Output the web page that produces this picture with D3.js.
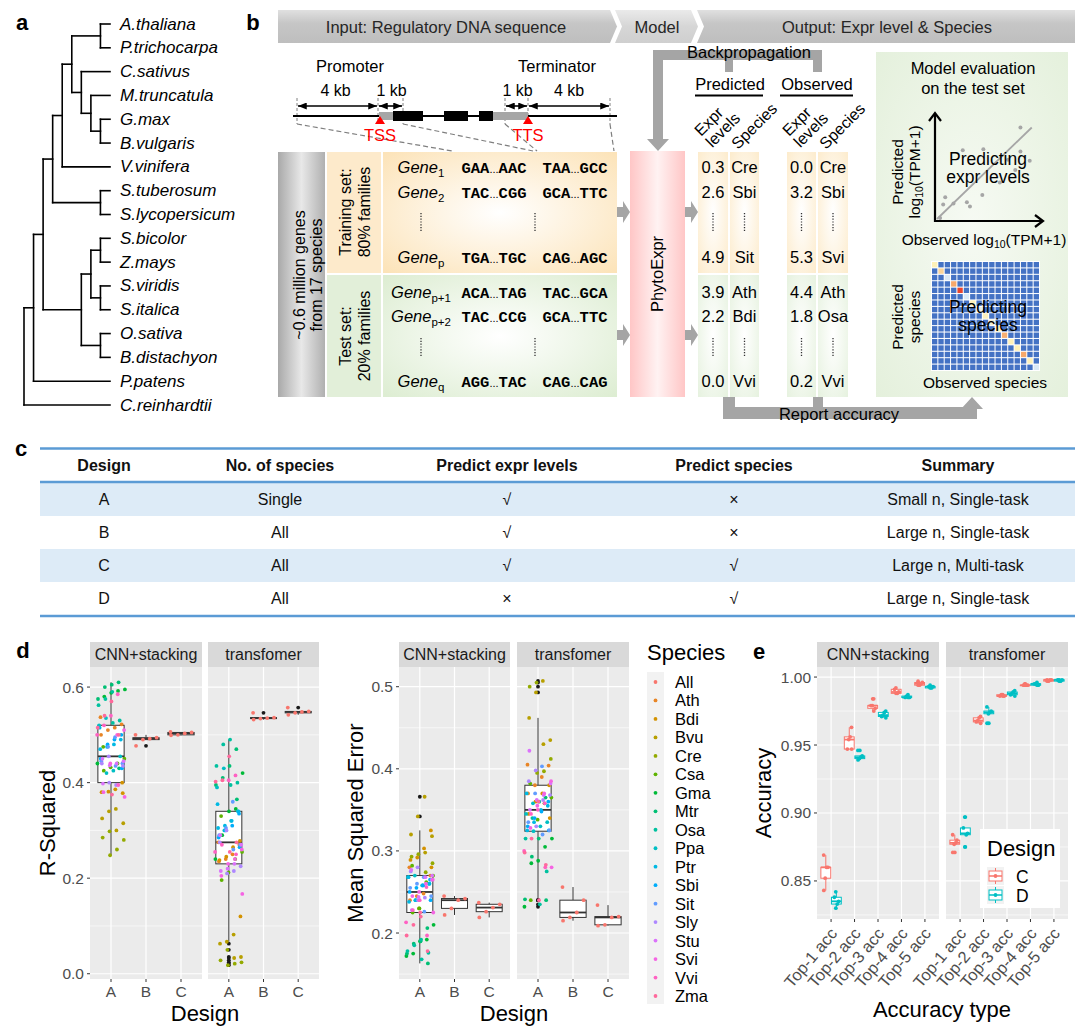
<!DOCTYPE html>
<html><head><meta charset="utf-8">
<script src="https://cdnjs.cloudflare.com/ajax/libs/d3/7.8.5/d3.min.js"></script>
<style>html,body{margin:0;padding:0;background:#fff;} svg{display:block;}</style>
</head><body>
<svg id="fig" width="1080" height="1031"></svg>
<script>
// ======================= DATA =======================
const speciesTree = [[[[[[["A.thaliana","P.trichocarpa"],["C.sativus",["M.truncatula",["G.max","B.vulgaris"]]]],"V.vinifera"],["S.tuberosum","S.lycopersicum"]],[[["S.bicolor","Z.mays"],["S.viridis","S.italica"]],["O.sativa","B.distachyon"]]],"P.patens"],"C.reinhardtii"];

const bannerLabels = ["Input: Regulatory DNA sequence","Model","Output: Expr level & Species"];
const geneLabels = {promoter:"Promoter", terminator:"Terminator", dims:["4 kb","1 kb","1 kb","4 kb"], tss:"TSS", tts:"TTS"};
const trainGenes = [{sub:"1",a:["GAA","AAC"],b:["TAA","GCC"]},{sub:"2",a:["TAC","CGG"],b:["GCA","TTC"]},null,{sub:"p",a:["TGA","TGC"],b:["CAG","AGC"]}];
const testGenes  = [{sub:"p+1",a:["ACA","TAG"],b:["TAC","GCA"]},{sub:"p+2",a:["TAC","CCG"],b:["GCA","TTC"]},null,{sub:"q",a:["AGG","TAC"],b:["CAG","CAG"]}];
const predExpr = ["0.3","2.6",null,"4.9","3.9","2.2",null,"0.0"];
const predSpecies = ["Cre","Sbi",null,"Sit","Ath","Bdi",null,"Vvi"];
const obsExpr = ["0.0","3.2",null,"5.3","4.4","1.8",null,"0.2"];
const obsSpecies = ["Cre","Sbi",null,"Svi","Ath","Osa",null,"Vvi"];
const evalObs  = [8.1,2.5,4.5,8.1,9.0,0.8,0.6,1.6,2.9,3.2,4.4,6.1,6.9,0.3,7.6];
const evalPred = [8.8,6.6,6.7,6.5,5.6,2.1,1.4,1.5,1.6,1.2,2.3,3.5,5.7,0.1,4.7];
const confDiag = [0.62,0.7,0.45,0.82,0.97,0.45,0.62,0.5,0.6,0.55,0.62,0.8,0.62,0.62,0.82,0.62,0.45];

const tableHeader = ["Design","No. of species","Predict expr levels","Predict species","Summary"];
const tableRows = [["A","Single","√","×","Small n, Single-task"],["B","All","√","×","Large n, Single-task"],["C","All","√","√","Large n, Multi-task"],["D","All","×","√","Large n, Single-task"]];

const speciesLevels = ["All","Ath","Bdi","Bvu","Cre","Csa","Gma","Mtr","Osa","Ppa","Ptr","Sbi","Sit","Sly","Stu","Svi","Vvi","Zma"];
const designLevels = ["A","B","C"];
const modelLevels = ["CNN+stacking","transfomer"];

// R-squared, design A: one row per species Ath..Zma
const r2CnnA = [
 [0.537,0.522,0.515,0.510,0.500],[0.400,0.386,0.381,0.380,0.378],[0.345,0.340,0.325,0.315,0.300],[0.298,0.285,0.280,0.260,0.248],
 [0.475,0.450,0.440,0.432,0.425],[0.595,0.592,0.588,0.580,0.440],[0.610,0.605,0.600,0.575,0.430],[0.590,0.575,0.562,0.530,0.525],
 [0.535,0.520,0.455,0.425,0.420],[0.515,0.490,0.480,0.475,0.470],[0.500,0.490,0.480,0.450,0.430],[0.495,0.475,0.445,0.440,0.435],
 [0.455,0.440,0.435,0.395,0.400],[0.450,0.445,0.440,0.436,0.398],[0.510,0.500,0.440,0.380,0.370],[0.585,0.540,0.520,0.500,0.395],
 [0.570,0.540,0.515,0.500,0.375]];
const r2CnnB = [0.500,0.494,0.492,0.490,0.477];
const r2CnnC = [0.506,0.505,0.503,0.500,0.499];
const r2TrfA = [
 [0.275,0.270,0.250,0.240,0.235],[0.278,0.265,0.245,0.238,0.120],[0.082,0.067,0.063,0.035,0.033],[0.050,0.028,0.024,0.021,0.018],
 [0.330,0.255,0.240,0.212,0.196],[0.420,0.345,0.340,0.290,0.240],[0.470,0.435,0.410,0.395,0.365],[0.490,0.480,0.435,0.400,0.395],
 [0.430,0.390,0.340,0.320,0.300],[0.355,0.340,0.320,0.310,0.305],[0.335,0.310,0.300,0.285,0.265],[0.360,0.305,0.290,0.270,0.260],
 [0.300,0.275,0.225,0.215,0.210],[0.290,0.270,0.230,0.220,0.215],[0.260,0.240,0.230,0.205,0.167],[0.415,0.405,0.270,0.255,0.250],
 [0.455,0.405,0.402,0.275,0.255]];
const r2TrfB = [0.546,0.536,0.535,0.534,0.532];
const r2TrfC = [0.557,0.549,0.548,0.546,0.542];

// Mean squared error
const mseCnnA = [
 [0.280,0.270,0.248,0.245,0.240],[0.325,0.303,0.292,0.289,0.280],[0.366,0.342,0.320,0.318,0.298],[0.296,0.293,0.285,0.274,0.230],
 [0.282,0.270,0.262,0.230,0.225],[0.210,0.192,0.190,0.175,0.172],[0.206,0.190,0.187,0.175,0.163],[0.192,0.185,0.178,0.176,0.168],
 [0.270,0.268,0.260,0.258,0.240],[0.268,0.260,0.258,0.240,0.238],[0.265,0.258,0.255,0.250,0.240],[0.268,0.260,0.255,0.245,0.226],
 [0.280,0.275,0.265,0.243,0.240],[0.277,0.270,0.268,0.244,0.228],[0.265,0.260,0.250,0.245,0.225],[0.256,0.240,0.228,0.213,0.197],
 [0.225,0.210,0.197,0.178,0.220]];
const mseCnnB = [0.245,0.242,0.240,0.230,0.222];
const mseCnnC = [0.237,0.235,0.231,0.226,0.219];
const mseTrfA = [
 [0.405,0.404,0.390,0.380,0.370],[0.380,0.370,0.360,0.345,0.340],[0.507,0.493,0.462,0.435,0.430],[0.505,0.500,0.412,0.397,0.395],
 [0.382,0.365,0.358,0.338,0.240],[0.315,0.305,0.288,0.285,0.232],[0.365,0.315,0.293,0.241,0.240],[0.360,0.340,0.315,0.275,0.235],
 [0.358,0.345,0.335,0.330,0.324],[0.370,0.355,0.350,0.335,0.325],[0.360,0.348,0.340,0.330,0.325],[0.403,0.370,0.335,0.325,0.320],
 [0.398,0.385,0.368,0.362,0.330],[0.422,0.382,0.368,0.362,0.350],[0.385,0.370,0.355,0.328,0.280],[0.358,0.350,0.345,0.300,0.280],
 [0.360,0.315,0.298,0.283,0.240]];
const mseTrfB = [0.256,0.240,0.225,0.219,0.215];
const mseTrfC = [0.234,0.220,0.219,0.210,0.209];

// Accuracy (panel e): one row per accuracy type
const accTypes = ["Top-1 acc","Top-2 acc","Top-3 acc","Top-4 acc","Top-5 acc"];
const accDesigns = ["C","D"];
const accCnnC = [[0.869,0.860,0.860,0.852,0.843],[0.963,0.956,0.954,0.947,0.947],[0.984,0.979,0.979,0.977,0.975],[0.992,0.991,0.989,0.988,0.988],[0.997,0.996,0.995,0.994,0.994]];
const accCnnD = [[0.842,0.838,0.835,0.833,0.830],[0.946,0.942,0.941,0.940,0.939],[0.975,0.974,0.972,0.971,0.970],[0.987,0.986,0.985,0.985,0.985],[0.994,0.993,0.993,0.992,0.992]];
const accTrfC = [[0.884,0.880,0.878,0.877,0.871],[0.971,0.970,0.968,0.967,0.966],[0.987,0.987,0.986,0.986,0.986],[0.995,0.994,0.994,0.994,0.994],[0.998,0.998,0.998,0.997,0.997]];
const accTrfD = [[0.897,0.889,0.885,0.884,0.875],[0.978,0.975,0.974,0.973,0.966],[0.990,0.989,0.988,0.987,0.986],[0.996,0.995,0.995,0.994,0.994],[0.998,0.998,0.998,0.997,0.997]];

const r2Ticks = [0.0,0.2,0.4,0.6], mseTicks = [0.2,0.3,0.4,0.5], accTicks = [0.85,0.90,0.95,1.00];

// ======================= HELPERS =======================
const FONT = '"Liberation Sans", Arial, Helvetica, sans-serif';
const MONO = '"Liberation Mono", "Courier New", monospace';
const svg = d3.select("#fig").attr("font-family", FONT);
const defs = svg.append("defs");

function hclLuv(h, c, l) { // R's hcl() (polar CIELUV) -> hex
  const Xn=95.047, Yn=100, Zn=108.883;
  const un = 4*Xn/(Xn+15*Yn+3*Zn), vn = 9*Yn/(Xn+15*Yn+3*Zn);
  const hr = h*Math.PI/180, U = c*Math.cos(hr), V = c*Math.sin(hr);
  const Y = l > 8 ? Yn*Math.pow((l+16)/116,3) : Yn*l/903.3;
  const up = U/(13*l)+un, vp = V/(13*l)+vn;
  const X = Y*9*up/(4*vp), Z = Y*(12-3*up-20*vp)/(4*vp);
  const x=X/100, y=Y/100, z=Z/100;
  let r = 3.2404542*x-1.5371385*y-0.4985314*z, g=-0.9692660*x+1.8760108*y+0.0415560*z, b=0.0556434*x-0.2040259*y+1.0572252*z;
  const gam = v => { v = v<=0.0031308 ? 12.92*v : 1.055*Math.pow(v,1/2.4)-0.055; return Math.round(255*Math.max(0,Math.min(1,v))); };
  return d3.rgb(gam(r),gam(g),gam(b)).formatHex();
}
const speciesColor = d3.scaleOrdinal(speciesLevels, speciesLevels.map((s,i)=>hclLuv(15+i*360/18,100,65)));
const designColor = d3.scaleOrdinal(accDesigns, [hclLuv(15,100,65), hclLuv(195,100,65)]);
const jit = k => (((k+1)*0.7548776662 + 0.37) % 1)*2 - 1;

function txt(g, x, y, s, o={}) {
  const t = g.append("text").attr("x",x).attr("y",y).text(s)
    .attr("font-size", o.size||16).attr("fill", o.fill||"#000").attr("text-anchor", o.anchor||"middle");
  if (o.weight) t.attr("font-weight",o.weight);
  if (o.style) t.attr("font-style",o.style);
  if (o.family) t.attr("font-family",o.family);
  if (o.rotate!==undefined) t.attr("transform",`rotate(${o.rotate},${x},${y})`);
  return t;
}
function linGrad(id, x2, y2, stops){ const g=defs.append("linearGradient").attr("id",id).attr("x1",0).attr("y1",0).attr("x2",x2).attr("y2",y2); stops.forEach(([o,c])=>g.append("stop").attr("offset",o).attr("stop-color",c)); }
function radGrad(id, stops, r="70%"){ const g=defs.append("radialGradient").attr("id",id).attr("cx","50%").attr("cy","50%").attr("r",r); stops.forEach(([o,c])=>g.append("stop").attr("offset",o).attr("stop-color",c)); }
linGrad("gBanner",0,1,[["0%","#E0E0E0"],["40%","#C6C6C6"],["100%","#BEBEBE"]]);
linGrad("gModel",0,1,[["0%","#EAEAEA"],["50%","#D6D6D6"],["100%","#CFCFCF"]]);
linGrad("gGray",1,0,[["0%","#A9A9A9"],["50%","#E8E8E8"],["100%","#B0B0B0"]]);
linGrad("gPink",1,0,[["0%","#FFC6C6"],["50%","#FFF2F2"],["100%","#FFC6C6"]]);
radGrad("gOrange",[["0%","#FFFFFF"],["100%","#FCE3B8"]]);
radGrad("gGreen",[["0%","#FFFFFF"],["100%","#DDEDD2"]]);
radGrad("gOrangeCol",[["0%","#FFFFFF"],["100%","#FCE6BE"]],"90%");
radGrad("gGreenCol",[["0%","#FFFFFF"],["100%","#DFEED6"]],"90%");
radGrad("gEval",[["0%","#F6FAF3"],["100%","#E2EFD9"]],"80%");
defs.append("marker").attr("id","arrowHead").attr("viewBox","0 0 10 8").attr("refX",10).attr("refY",4)
  .attr("markerWidth",9).attr("markerHeight",7).attr("markerUnits","userSpaceOnUse").attr("orient","auto-start-reverse")
  .append("path").attr("d","M0,0 L10,4 L0,8 Z").attr("fill","#000");

// ======================= PANEL a : tree =======================
const ga = svg.append("g");
txt(ga, 22, 30, "a", {size:22, weight:"bold"});
const root = d3.hierarchy(speciesTree, d => Array.isArray(d) ? d : null);
const leaves = root.leaves();
const leafY = d3.scalePoint(leaves.map(d=>d.data), [24, 405]);
const treeX = d3.scaleLinear([root.height, 0], [24, 110]);
root.eachAfter(n => { n.py = n.children ? (n.children[0].py + n.children[n.children.length-1].py)/2 : leafY(n.data); });
root.each(n => {
  if (!n.children) return;
  const x = treeX(n.height);
  ga.append("line").attr("x1",x).attr("x2",x).attr("y1",n.children[0].py).attr("y2",n.children[n.children.length-1].py)
    .attr("stroke","#000").attr("stroke-width",1.6).attr("stroke-linecap","square");
  n.children.forEach(c => ga.append("line").attr("x1",x).attr("x2",treeX(c.height)).attr("y1",c.py).attr("y2",c.py)
    .attr("stroke","#000").attr("stroke-width",1.6).attr("stroke-linecap","square"));
});
leaves.forEach(l => txt(ga, 120, l.py+5.5, l.data, {size:17, style:"italic", anchor:"start"}));

// ======================= PANEL b : schematic =======================
const gb = svg.append("g");
txt(gb, 253, 30, "b", {size:22, weight:"bold"});
// banners
gb.append("path").attr("d","M278,10 H610 L617,26.5 L610,43 H278 Z").attr("fill","url(#gBanner)");
gb.append("path").attr("d","M615,10 H691 L698,26.5 L691,43 H615 L622,26.5 Z").attr("fill","url(#gModel)");
gb.append("path").attr("d","M697,10 H1075 V43 H697 L704,26.5 Z").attr("fill","url(#gBanner)");
txt(gb, 446, 32.5, bannerLabels[0], {size:16.5, fill:"#262626"});
txt(gb, 657, 32.5, bannerLabels[1], {size:16.5, fill:"#262626"});
txt(gb, 887, 32.5, bannerLabels[2], {size:16.5, fill:"#262626"});

// gene structure
txt(gb, 350, 72, geneLabels.promoter, {size:16.5});
txt(gb, 557, 72, geneLabels.terminator, {size:16.5});
const dimX = [297,378,403,505,528,610];
[[0,1],[1,2],[3,4],[4,5]].forEach(([a,b],i) => {
  gb.append("line").attr("x1",dimX[a]+1).attr("x2",dimX[b]-1).attr("y1",106).attr("y2",106).attr("stroke","#000").attr("stroke-width",1.6)
    .attr("marker-start","url(#arrowHead)").attr("marker-end","url(#arrowHead)");
  txt(gb, (dimX[a]+dimX[b])/2 + (i===0? -2 : i===3 ? 0 : 1), 96, geneLabels.dims[i], {size:16});
});
dimX.forEach(x => gb.append("line").attr("x1",x).attr("x2",x).attr("y1",98).attr("y2",124).attr("stroke","#808080").attr("stroke-width",1).attr("stroke-dasharray","3,2"));
[[297,452],[403,533],[505,537],[610,614]].forEach(([a,b]) =>
  gb.append("path").attr("d",`M${a},124 L${b},151`).attr("fill","none").attr("stroke","#7F7F7F").attr("stroke-width",1.2).attr("stroke-dasharray","5,3"));
gb.append("line").attr("x1",293).attr("x2",617).attr("y1",116).attr("y2",116).attr("stroke","#000").attr("stroke-width",2.2);
gb.append("rect").attr("x",379).attr("y",112).attr("width",14).attr("height",8).attr("fill","#A6A6A6");
gb.append("rect").attr("x",493).attr("y",112).attr("width",35).attr("height",8).attr("fill","#A6A6A6");
[[393,423],[444,468],[479,493]].forEach(([a,b]) => gb.append("rect").attr("x",a).attr("y",111).attr("width",b-a).attr("height",10).attr("fill","#000"));
[[380,geneLabels.tss],[528,geneLabels.tts]].forEach(([x,l]) => {
  gb.append("path").attr("d",`M${x-5},124 L${x+5},124 L${x},116 Z`).attr("fill","#FF0000");
  txt(gb, x, 141, l, {size:16.5, fill:"#FF0000"});
});

// left boxes
gb.append("rect").attr("x",278).attr("y",152).attr("width",47).attr("height",245).attr("fill","url(#gGray)");
const g06 = gb.append("g").attr("transform","translate(306,275) rotate(-90)");
txt(g06, 0, -1, "~0.6 million genes", {size:16});
txt(g06, 0, 16, "from 17 species", {size:16});
gb.append("rect").attr("x",327).attr("y",152).attr("width",54).attr("height",121).attr("fill","#FDEACB");
gb.append("rect").attr("x",327).attr("y",275).attr("width",54).attr("height",122).attr("fill","#E2EFD9");
const gtr = gb.append("g").attr("transform","translate(355,212) rotate(-90)");
txt(gtr, 0, -4, "Training set:", {size:16}); txt(gtr, 0, 15, "80% families", {size:16});
const gte = gb.append("g").attr("transform","translate(355,336) rotate(-90)");
txt(gte, 0, -4, "Test set:", {size:16}); txt(gte, 0, 15, "20% families", {size:16});
gb.append("rect").attr("x",383).attr("y",152).attr("width",234).attr("height",121).attr("fill","url(#gOrange)");
gb.append("rect").attr("x",383).attr("y",275).attr("width",234).attr("height",122).attr("fill","url(#gGreen)");
const rowY = d3.scaleOrdinal(d3.range(8), [167,192,222,257,292,316,347,381]);
function seq(g, x, y, parts) {
  const t = g.append("text").attr("x",x).attr("y",y).attr("text-anchor","middle").attr("font-size",15.5);
  t.append("tspan").attr("font-family",MONO).attr("font-weight","bold").text(parts[0]);
  t.append("tspan").attr("font-size",11).text("...");
  t.append("tspan").attr("font-family",MONO).attr("font-weight","bold").text(parts[1]);
}
function vdots(g, x, yc) { g.append("line").attr("x1",x).attr("x2",x).attr("y1",yc-9).attr("y2",yc+9).attr("stroke","#333").attr("stroke-width",1.3).attr("stroke-dasharray","1.2,1.6"); }
trainGenes.concat(testGenes).forEach((gn,i) => {
  const y = rowY(i);
  if (!gn) { vdots(gb, 421, y); vdots(gb, 535, y); return; }
  const t = gb.append("text").attr("x",421).attr("y",y+6).attr("text-anchor","middle").attr("font-size",16.5);
  t.append("tspan").attr("font-style","italic").text("Gene");
  t.append("tspan").attr("font-size",11.5).attr("dy",4).text(gn.sub);
  seq(gb, 494, y+6, gn.a); seq(gb, 575, y+6, gn.b);
});
// arrows
function fatRight(g, x0, x1, yc) { g.append("path").attr("d",`M${x0},${yc-5} H${x1-7} V${yc-11} L${x1},${yc} L${x1-7},${yc+11} V${yc+5} H${x0} Z`).attr("fill","#A5A5A5"); }
[212,335].forEach(y => { fatRight(gb, 617, 630, y); fatRight(gb, 685, 698, y); });
gb.append("rect").attr("x",630).attr("y",151).attr("width",55).attr("height",246).attr("fill","url(#gPink)");
txt(gb, 0, 0, "PhytoExpr", {size:16.5}).attr("transform","translate(663,274) rotate(-90)");

// output columns
const colX = [[698,728],[730,759],[787,816],[818,848]];
colX.forEach(([a,b]) => {
  gb.append("rect").attr("x",a).attr("y",152).attr("width",b-a).attr("height",121).attr("fill","url(#gOrangeCol)");
  gb.append("rect").attr("x",a).attr("y",275).attr("width",b-a).attr("height",122).attr("fill","url(#gGreenCol)");
});
[predExpr,predSpecies,obsExpr,obsSpecies].forEach((arr,ci) => {
  const cx = (colX[ci][0]+colX[ci][1])/2;
  arr.forEach((v,i) => { if (v===null) vdots(gb, cx, rowY(i)); else txt(gb, cx, rowY(i)+6, v, {size:16.5}); });
});
[["Predicted",730,695,763],["Observed",817,780,853]].forEach(([l,cx,a,b]) => {
  txt(gb, cx, 90, l, {size:16.5});
  gb.append("line").attr("x1",a).attr("x2",b).attr("y1",95.5).attr("y2",95.5).attr("stroke","#000").attr("stroke-width",2);
});
[[701,738],[789,826]].forEach(([xe,xs]) => {
  const ge = gb.append("g").attr("transform",`translate(${xe},137) rotate(-45)`);
  txt(ge, 0, 0, "Expr", {size:16, anchor:"start"}); txt(ge, 0, 16, "levels", {size:16, anchor:"start"});
  txt(gb, 0, 0, "Species", {size:16, anchor:"start"}).attr("transform",`translate(${xs},150) rotate(-45)`);
});
// backpropagation & report arrows
gb.append("path").attr("d","M653,50 H822 V72 H813 V60 H733 V72 H725 V60 H663 V139 H669 L658,151 L647,139 H653 Z").attr("fill","#A5A5A5");
txt(gb, 749, 58, "Backpropagation", {size:16.5});
gb.append("path").attr("d","M723,397 H735 V407 H813 V397 H823 V407 H967 V409 H961 L972,397 L983,409 H977 V419 H723 Z").attr("fill","#A5A5A5");
txt(gb, 839, 420, "Report accuracy", {size:16.5});

// evaluation box
gb.append("rect").attr("x",876).attr("y",52).attr("width",192).attr("height",345).attr("fill","url(#gEval)");
txt(gb, 973, 74, "Model evaluation", {size:16.5});
txt(gb, 973, 94, "on the test set", {size:16.5});
const ex = d3.scaleLinear([0,10],[937,1040]), ey = d3.scaleLinear([0,10],[219,115]);
gb.append("line").attr("x1",ex(0)).attr("y1",ey(0)).attr("x2",ex(9.2)).attr("y2",ey(8.8)).attr("stroke","#A6A6A6").attr("stroke-width",1.8);
evalObs.forEach((v,i) => gb.append("circle").attr("cx",ex(v)).attr("cy",ey(evalPred[i])).attr("r",2).attr("fill","#A6A6A6"));
gb.append("path").attr("d","M935,114 V221 H1043").attr("fill","none").attr("stroke","#000").attr("stroke-width",2.2);
gb.append("path").attr("d","M929,121 L935,113 L941,121").attr("fill","none").attr("stroke","#000").attr("stroke-width",2.2);
gb.append("path").attr("d","M1035,215 L1043,221 L1035,227").attr("fill","none").attr("stroke","#000").attr("stroke-width",2.2);
txt(gb, 988, 165, "Predicting", {size:17.5}); txt(gb, 988, 183, "expr levels", {size:17.5});
const gpl = gb.append("g").attr("transform","translate(903,172) rotate(-90)");
txt(gpl, 0, 0, "Predicted", {size:15.5});
const lg = gpl.append("text").attr("x",0).attr("y",17).attr("text-anchor","middle").attr("font-size",15.5);
lg.append("tspan").text("log"); lg.append("tspan").attr("font-size",10.5).attr("dy",3).text("10"); lg.append("tspan").attr("dy",-3).text("(TPM+1)");
const ol = gb.append("text").attr("x",984).attr("y",245).attr("text-anchor","middle").attr("font-size",15.5);
ol.append("tspan").text("Observed log"); ol.append("tspan").attr("font-size",10.5).attr("dy",3).text("10"); ol.append("tspan").attr("dy",-3).text("(TPM+1)");
// confusion heatmap
const hb = d3.scaleBand(d3.range(17), [932,1039]).paddingInner(0.16);
const hby = d3.scaleBand(d3.range(17), [262,370]).paddingInner(0.16);
const heatColor = d3.scaleLinear([0,0.45,0.62,0.82,1],["#4472C4","#DAE8F5","#FFF1B8","#F6A86B","#E8301E"]);
gb.append("rect").attr("x",931).attr("y",261).attr("width",109).attr("height",110).attr("fill","#fff");
d3.range(17).forEach(r => d3.range(17).forEach(c => gb.append("rect").attr("x",hb(c)).attr("y",hby(r)).attr("width",hb.bandwidth()).attr("height",hby.bandwidth())
  .attr("fill", r===c ? heatColor(confDiag[r]) : "#4472C4")));
txt(gb, 988, 313, "Predicting", {size:17.5}); txt(gb, 988, 331, "species", {size:17.5});
const gps = gb.append("g").attr("transform","translate(903,317) rotate(-90)");
txt(gps, 0, 0, "Predicted", {size:15.5}); txt(gps, 0, 17, "species", {size:15.5});
txt(gb, 985, 388, "Observed species", {size:15.5});

// ======================= PANEL c : table =======================
const gc = svg.append("g");
txt(gc, 21, 456, "c", {size:22, weight:"bold"});
const colCx = d3.scaleOrdinal(d3.range(5), [104,280,507,734,958]);
const rowBand = d3.scaleBand(d3.range(4), [483,615]);
tableRows.forEach((r,i) => {
  if (i%2===0) gc.append("rect").attr("x",40).attr("y",rowBand(i)).attr("width",1035).attr("height",rowBand.bandwidth()).attr("fill","#DDEBF7");
  r.forEach((v,j) => txt(gc, colCx(j), rowBand(i)+rowBand.bandwidth()/2+5.5, v, {size:16, fill:"#111"}));
});
tableHeader.forEach((h,j) => txt(gc, colCx(j), 471, h, {size:16, weight:"bold", fill:"#111"}));
[448.5,482,616].forEach(y => gc.append("line").attr("x1",40).attr("x2",1075).attr("y1",y).attr("y2",y).attr("stroke","#5B9BD5").attr("stroke-width",2.6));

// ======================= FACET helpers =======================
function boxStats(vals){
  const s = vals.slice().sort(d3.ascending);
  const q1=d3.quantileSorted(s,0.25), med=d3.quantileSorted(s,0.5), q3=d3.quantileSorted(s,0.75);
  const iqr=q3-q1, lo=q1-1.5*iqr, hi=q3+1.5*iqr;
  return {q1,med,q3, wlo:d3.min(s.filter(v=>v>=lo)), whi:d3.max(s.filter(v=>v<=hi)), out:s.filter(v=>v<lo||v>hi)};
}
function drawBox(g, cx, bw, vals, y, stroke, outFill) {
  const st = boxStats(vals);
  g.append("line").attr("x1",cx).attr("x2",cx).attr("y1",y(st.whi)).attr("y2",y(st.q3)).attr("stroke",stroke).attr("stroke-width",1);
  g.append("line").attr("x1",cx).attr("x2",cx).attr("y1",y(st.q1)).attr("y2",y(st.wlo)).attr("stroke",stroke).attr("stroke-width",1);
  g.append("rect").attr("x",cx-bw/2).attr("y",y(st.q3)).attr("width",bw).attr("height",Math.max(0.5,y(st.q1)-y(st.q3))).attr("fill","#fff").attr("stroke",stroke).attr("stroke-width",1);
  g.append("line").attr("x1",cx-bw/2).attr("x2",cx+bw/2).attr("y1",y(st.med)).attr("y2",y(st.med)).attr("stroke",stroke).attr("stroke-width",1.8);
  st.out.forEach(v => g.append("circle").attr("cx",cx).attr("cy",y(v)).attr("r",1.9).attr("fill",outFill));
}
function facetFrame(g, x0, x1, y, majors, minors, label, xs) {
  const [yb, yt] = y.range();
  g.append("rect").attr("x",x0).attr("y",yt).attr("width",x1-x0).attr("height",yb-yt).attr("fill","#EBEBEB");
  minors.forEach(v => g.append("line").attr("x1",x0).attr("x2",x1).attr("y1",y(v)).attr("y2",y(v)).attr("stroke","#fff").attr("stroke-width",0.6));
  majors.forEach(v => g.append("line").attr("x1",x0).attr("x2",x1).attr("y1",y(v)).attr("y2",y(v)).attr("stroke","#fff").attr("stroke-width",1.2));
  xs.domain().forEach(c => g.append("line").attr("x1",xs(c)).attr("x2",xs(c)).attr("y1",yt).attr("y2",yb).attr("stroke","#fff").attr("stroke-width",1.2));
  g.append("rect").attr("x",x0).attr("y",642).attr("width",x1-x0).attr("height",yt-642).attr("fill","#D9D9D9");
  txt(g, (x0+x1)/2, 660, label, {size:16, fill:"#1A1A1A"});
  xs.domain().forEach(c => g.append("line").attr("x1",xs(c)).attr("x2",xs(c)).attr("y1",yb).attr("y2",yb+3).attr("stroke","#333"));
}
function yAxis(g, x0, y, ticks, fmt) {
  ticks.forEach(v => {
    g.append("line").attr("x1",x0-3).attr("x2",x0).attr("y1",y(v)).attr("y2",y(v)).attr("stroke","#333");
    txt(g, x0-6, y(v)+5.5, fmt(v), {size:15.5, fill:"#4D4D4D", anchor:"end"});
  });
}
function designFacet(g, x0, x1, y, majors, minors, label, A, B, C) {
  const xs = d3.scalePoint(designLevels, [x0, x1]).padding(0.6);
  facetFrame(g, x0, x1, y, majors, minors, label, xs);
  const step = xs.step(), bw = 0.75*step;
  const groups = {
    A: A.flatMap((vals,i)=>vals.map(v=>({sp:speciesLevels[i+1], v}))),
    B: B.map(v=>({sp:"All", v})), C: C.map(v=>({sp:"All", v}))
  };
  designLevels.forEach(d => drawBox(g, xs(d), bw, groups[d].map(p=>p.v), y, "#333", "#1A1A1A"));
  designLevels.forEach(d => groups[d].forEach((p,k) =>
    g.append("circle").attr("cx", xs(d) + jit(k)*0.4*step).attr("cy", y(p.v)).attr("r",1.9).attr("fill", speciesColor(p.sp))));
  designLevels.forEach(d => txt(g, xs(d), 997, d, {size:15.5, fill:"#4D4D4D"}));
}

// ======================= PANEL d =======================
const gd = svg.append("g");
txt(gd, 23, 658, "d", {size:22, weight:"bold"});
const yR2 = d3.scaleLinear([-0.011, 0.642], [979, 667]);
designFacet(gd, 90, 202, yR2, r2Ticks, [0.1,0.3,0.5], modelLevels[0], r2CnnA, r2CnnB, r2CnnC);
designFacet(gd, 208, 319, yR2, r2Ticks, [0.1,0.3,0.5], modelLevels[1], r2TrfA, r2TrfB, r2TrfC);
yAxis(gd, 90, yR2, r2Ticks, d3.format(".1f"));
txt(gd, 0, 0, "R-Squared", {size:22}).attr("transform","translate(55,823) rotate(-90)");
txt(gd, 205, 1021, "Design", {size:22});

const yMse = d3.scaleLinear([0.144, 0.524], [979, 667]);
designFacet(gd, 399, 510, yMse, mseTicks, [0.15,0.25,0.35,0.45], modelLevels[0], mseCnnA, mseCnnB, mseCnnC);
designFacet(gd, 517, 629, yMse, mseTicks, [0.15,0.25,0.35,0.45], modelLevels[1], mseTrfA, mseTrfB, mseTrfC);
yAxis(gd, 399, yMse, mseTicks, d3.format(".1f"));
txt(gd, 0, 0, "Mean Squared Error", {size:22}).attr("transform","translate(363,823) rotate(-90)");
txt(gd, 514, 1021, "Design", {size:22});

// species legend
txt(gd, 647, 660, "Species", {size:22, anchor:"start"});
const legY = d3.scalePoint(speciesLevels, [682, 996]);
gd.append("rect").attr("x",647).attr("y",672).attr("width",17).attr("height",332).attr("fill","#F2F2F2");
speciesLevels.forEach(s => {
  gd.append("circle").attr("cx",655.5).attr("cy",legY(s)).attr("r",1.9).attr("fill",speciesColor(s));
  txt(gd, 675, legY(s)+6, s, {size:16.5, anchor:"start"});
});

// ======================= PANEL e =======================
const ge = svg.append("g");
txt(ge, 759, 659, "e", {size:22, weight:"bold"});
const yAcc = d3.scaleLinear([0.822, 1.0074], [919, 667]);
function accFacet(x0, x1, label, Cv, Dv) {
  const xs = d3.scalePoint(accTypes, [x0, x1]).padding(0.6);
  facetFrame(ge, x0, x1, yAcc, accTicks, [0.825,0.875,0.925,0.975], label, xs);
  const step = xs.step();
  const sets = {C: Cv, D: Dv};
  accTypes.forEach((t,i) => accDesigns.forEach((d,j) => {
    const cx = xs(t) + (j===0 ? -1 : 1)*0.225*step;
    drawBox(ge, cx, 0.42*step, sets[d][i], yAcc, designColor(d), designColor(d));
  }));
  accTypes.forEach((t,i) => accDesigns.forEach((d,j) => {
    const cx = xs(t) + (j===0 ? -1 : 1)*0.225*step;
    sets[d][i].forEach((v,k) => ge.append("circle").attr("cx", cx + jit(k+i*5+j*3)*0.12*step).attr("cy", yAcc(v)).attr("r",1.9).attr("fill", designColor(d)));
  }));
  accTypes.forEach(t => txt(ge, 0, 0, t, {size:16.5, fill:"#4D4D4D", anchor:"end"}).attr("transform",`translate(${xs(t)+7},934) rotate(-50)`));
}
accFacet(817, 939, modelLevels[0], accCnnC, accCnnD);
accFacet(946, 1068, modelLevels[1], accTrfC, accTrfD);
yAxis(ge, 817, yAcc, accTicks, d3.format(".2f"));
txt(ge, 0, 0, "Accuracy", {size:22}).attr("transform","translate(771,793) rotate(-90)");
txt(ge, 942, 1017, "Accuracy type", {size:22});
// design legend
ge.append("rect").attr("x",980).attr("y",829).attr("width",80).attr("height",79).attr("fill","#fff");
txt(ge, 987, 856, "Design", {size:22, anchor:"start"});
const keyY = d3.scaleOrdinal(accDesigns, [876, 895]);
accDesigns.forEach(d => {
  const cy = keyY(d), col = designColor(d);
  ge.append("rect").attr("x",987).attr("y",cy-9).attr("width",17).attr("height",18).attr("fill","#F2F2F2");
  ge.append("line").attr("x1",995.5).attr("x2",995.5).attr("y1",cy-8).attr("y2",cy+8).attr("stroke",col);
  ge.append("rect").attr("x",989).attr("y",cy-5).attr("width",13).attr("height",10).attr("fill","#fff").attr("stroke",col);
  ge.append("line").attr("x1",989).attr("x2",1002).attr("y1",cy).attr("y2",cy).attr("stroke",col).attr("stroke-width",1.5);
  ge.append("circle").attr("cx",995.5).attr("cy",cy).attr("r",1.9).attr("fill",col);
  txt(ge, 1016, cy+6.5, d, {size:17.5, anchor:"start"});
});
</script>
</body></html>
